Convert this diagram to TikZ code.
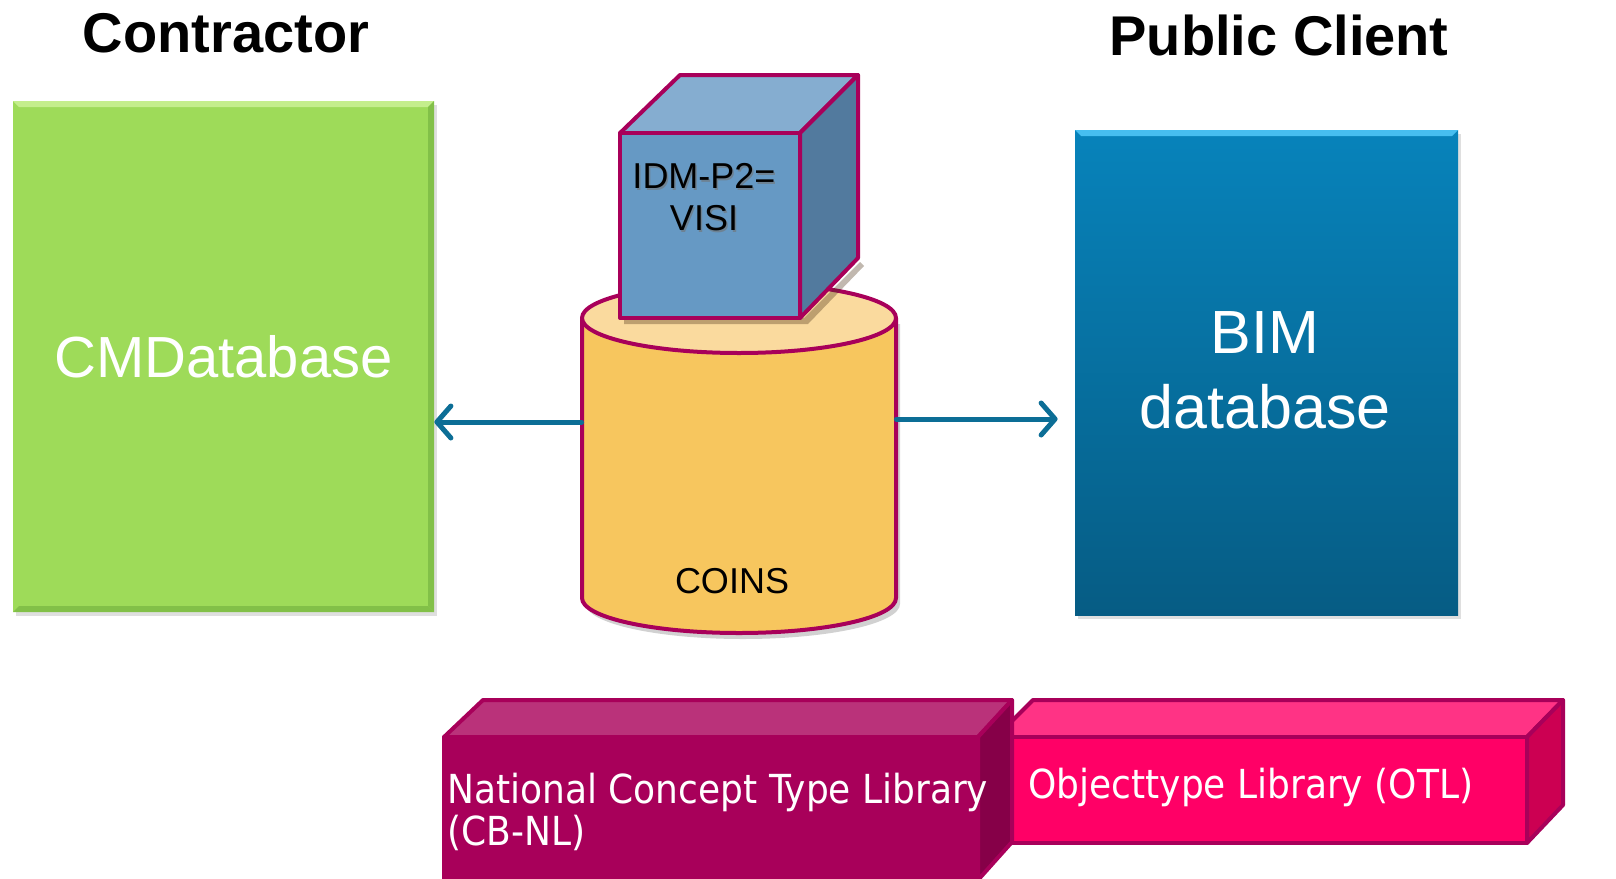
\documentclass[tikz,border=0pt]{standalone}
\usepackage{fontspec}
\setmainfont{Liberation Sans}
\newfontfamily\libfont{DejaVu Sans Condensed}
\usetikzlibrary{arrows.meta,shadows}
\definecolor{cmgreen}{RGB}{158,219,89}
\definecolor{cmgreenlt}{RGB}{196,238,140}
\definecolor{cmgreendk}{RGB}{130,192,72}
\definecolor{bimtop}{RGB}{7,131,187}
\definecolor{bimbot}{RGB}{6,92,132}
\definecolor{bimlt}{RGB}{70,190,240}
\definecolor{edgemag}{RGB}{168,0,90}
\definecolor{cyltop}{RGB}{250,218,158}
\definecolor{cylbody}{RGB}{247,198,94}
\definecolor{cubefront}{RGB}{102,153,196}
\definecolor{cubetop}{RGB}{133,173,208}
\definecolor{cuberight}{RGB}{82,122,158}
\definecolor{arrowblue}{RGB}{12,110,150}
\definecolor{nctlfront}{RGB}{168,0,90}
\definecolor{nctltop}{RGB}{186,50,122}
\definecolor{nctlright}{RGB}{134,0,72}
\definecolor{otlfront}{RGB}{255,0,102}
\definecolor{otltop}{RGB}{255,51,133}
\definecolor{otlright}{RGB}{204,0,82}
\begin{document}
\begin{tikzpicture}[x=0.5pt,y=-0.5pt,
  title/.style={font=\bfseries\fontsize{28}{32}\selectfont, text=black},
  bigbox/.style={inner sep=0pt, draw=none, drop shadow={opacity=0.25, shadow xshift=1.5pt, shadow yshift=-2pt}},
  bigtext/.style={text=white, font=\fontsize{29}{37.5}\selectfont, align=center},
  face/.style={draw=edgemag, line width=2pt, line join=round},
  arr/.style={draw=arrowblue, line width=2.5pt, line cap=round, -{Straight Barb[length=7pt,width=16pt,line cap=round,line join=round]}},
  libtext/.style={text=white, font=\libfont\fontsize{20}{21}\selectfont, align=left, inner sep=0pt},
  smalltext/.style={text=black, font=\fontsize{18}{21}\selectfont, align=center, inner sep=0pt}
]
\useasboundingbox (0,0) rectangle (1616,878);
\clip (0,0) rectangle (1616,878);

% titles
\node[title] (tcon) at (226,33) {Contractor};
\node[title] (tpub) at (1279,35) {Public Client};

% CMDatabase box
\node[bigbox, fill=cmgreen, minimum width=210.5pt, minimum height=255.5pt] (cm) at (223.5,356.5) {};
\fill[cmgreenlt] (13,101) -- (434,101) -- (428,107) -- (19,107) -- cycle;
\fill[cmgreendk] (434,101) -- (434,612) -- (428,606) -- (428,107) -- cycle;
\fill[cmgreendk] (13,612) -- (434,612) -- (428,606) -- (19,606) -- cycle;
\node[bigtext] (cmtext) at (cm.center) {CMDatabase};

% BIM database box
\node[bigbox, top color=bimtop, bottom color=bimbot, minimum width=191.5pt, minimum height=242.5pt] (bim) at (1266.5,372.5) {};
\fill[bimlt] (1075,130) -- (1458,130) -- (1452,136) -- (1081,136) -- cycle;
\node[bigtext, font=\fontsize{30.5}{37.5}\selectfont] (bimtext) at (1265,370.5) {BIM\\database};

% COINS cylinder
\fill[black, opacity=0.18] (586,324) -- (586,604) arc[start angle=180,end angle=360,x radius=78.5pt,y radius=17.5pt] -- (900,324) -- cycle;
\fill[cylbody] (582,318) -- (582,598) arc[start angle=180,end angle=360,x radius=78.5pt,y radius=17.5pt] -- (896,318) -- cycle;
\draw[face] (582,318) -- (582,598) arc[start angle=180,end angle=360,x radius=78.5pt,y radius=17.5pt] -- (896,318);
\filldraw[face, fill=cyltop] (739,318) ellipse[x radius=78.5pt, y radius=17.5pt];
\node[minimum width=157pt, minimum height=140pt, inner sep=0pt] (coins) at (739,458) {};
\node[smalltext] (coinstext) at (732,581) {COINS};

% IDM cube
\fill[black!60!brown, opacity=0.35] (624,318) -- (804,318) -- (860,262) -- (864,266) -- (808,324) -- (624,324) -- cycle;
\filldraw[face, fill=cubetop] (620,133) -- (680,75) -- (858,75) -- (800,133) -- cycle;
\filldraw[face, fill=cuberight] (800,133) -- (858,75) -- (858,258) -- (800,318) -- cycle;
\filldraw[face, fill=cubefront] (620,133) rectangle (800,318);
\node[smalltext, text=black!55, opacity=0.6] at (705.5,199.5) {IDM-P2=\\VISI};
\node[smalltext] (cube) at (704,197) {IDM-P2=\\VISI};

% arrows
\path ([yshift=18pt]coins.west) coordinate (la);
\path ([yshift=19.5pt]coins.east) coordinate (ra);
\draw[arr] (la) -- (la -| cm.east);
\draw[arr, shorten >=8.5pt] (ra) -- (ra -| bim.west);

% OTL box
\filldraw[face, fill=otltop] (996,737) -- (1033,700) -- (1563,700) -- (1527,737) -- cycle;
\filldraw[face, fill=otlright] (1527,737) -- (1563,700) -- (1563,805) -- (1527,843) -- cycle;
\filldraw[face, fill=otlfront] (996,737) rectangle (1527,843);
\node[libtext, anchor=west] (otl) at (1028,787) {Objecttype Library (OTL)};

% NCTL box
\filldraw[face, fill=nctltop] (444,737) -- (483,700) -- (1012,700) -- (978,737) -- cycle;
\filldraw[face, fill=nctlright] (978,737) -- (1012,700) -- (1012,842) -- (978,880) -- cycle;
\filldraw[face, fill=nctlfront] (444,737) rectangle (978,900);
\node[libtext, anchor=west] (nctl) at (447,812) {National Concept Type Library\\(CB-NL)};
\end{tikzpicture}
\end{document}
